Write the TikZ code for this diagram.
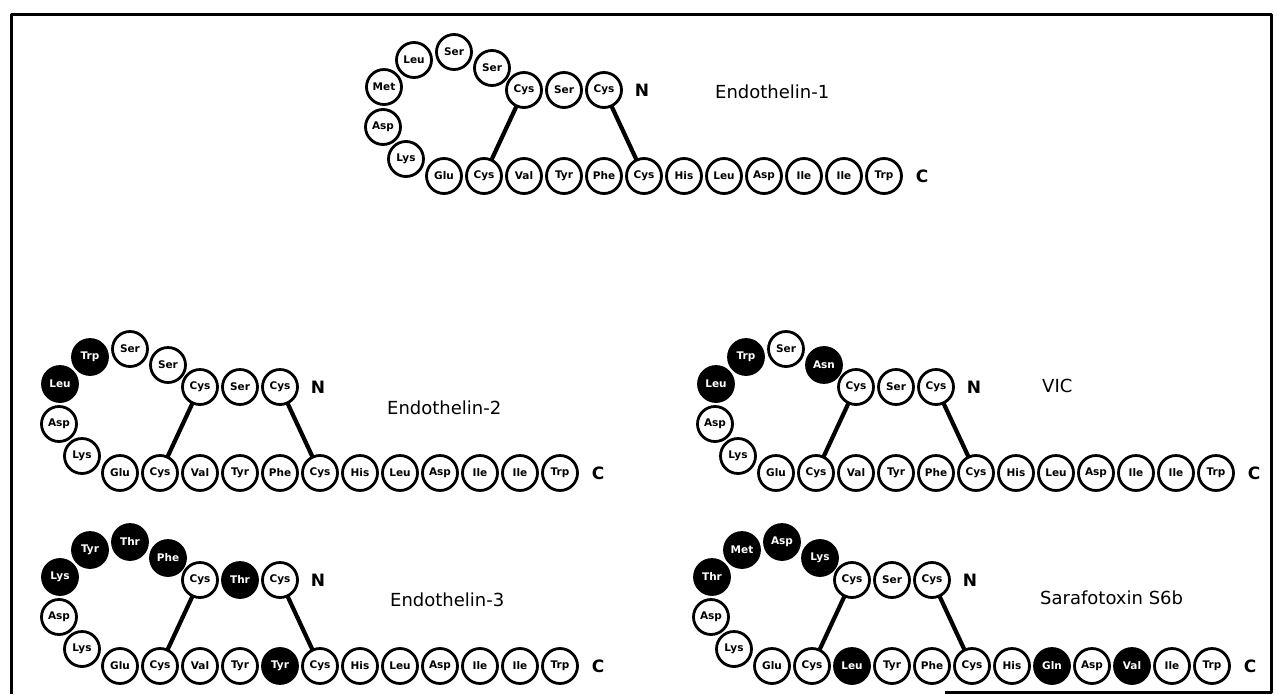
\documentclass[tikz,border=0pt]{standalone}
\usepackage{fontspec}
\newfontfamily\labfont{DejaVu Sans}

\tikzset{
  wres/.style={circle, draw=black, line width=2.8pt, fill=white, minimum size=35pt,
    inner sep=0pt, font=\labfont\bfseries\fontsize{10.5}{10.5}\selectfont, text=black},
  bres/.style={wres, fill=black, text=white},
  bond/.style={line width=4.2pt, line cap=round},
  term/.style={font=\labfont\bfseries\fontsize{17}{17}\selectfont, inner sep=0pt},
  title/.style={font=\labfont\fontsize{18}{18}\selectfont, anchor=west, inner sep=0pt},
  frame/.style={line width=3pt, line join=round}
}

% #1 name prefix, #2 position of Cys3, #3 residues as index/label/style
% residues 1-9: top row and loop; 10-21: bottom row
\newcommand\peptide[3]{%
  \begin{scope}[shift={#2}]
    \foreach \i/\aa/\st in {#3}{%
      \ifnum\i<10
        \pgfmathsetmacro\px{{80,40,0,-32,-70,-110,-140,-141,-118}[\i-1]}%
        \pgfmathsetmacro\py{{0,0,0,-22,-38,-30,-3,37,69}[\i-1]}%
      \else
        \pgfmathsetmacro\px{-80+40*(\i-10)}%
        \def\py{86}%
      \fi
      \node[\st] (#1-\i) at (\px,\py) {\aa};
    }
    \node[term] (#1-N) at (118,0) {N};
    \node[term] (#1-C) at (398,86) {C};
  \end{scope}
  \draw[bond] (#1-3) -- (#1-11);
  \draw[bond] (#1-1) -- (#1-15);
}

\begin{document}
\begin{tikzpicture}[x=1pt, y=-1pt]
  \path[use as bounding box, fill=white] (0,0) rectangle (1278,694);

  % outer frame
  \draw[frame] (945,692) -- (1271,692) -- (1271,14) -- (11,14) -- (11,694);

  % Endothelin-1
  \peptide{eI}{(524,90)}{1/Cys/wres, 2/Ser/wres, 3/Cys/wres, 4/Ser/wres, 5/Ser/wres,
    6/Leu/wres, 7/Met/wres, 8/Asp/wres, 9/Lys/wres, 10/Glu/wres, 11/Cys/wres,
    12/Val/wres, 13/Tyr/wres, 14/Phe/wres, 15/Cys/wres, 16/His/wres, 17/Leu/wres,
    18/Asp/wres, 19/Ile/wres, 20/Ile/wres, 21/Trp/wres}
  \node[title] (tI) at (715,92) {Endothelin-1};

  % Endothelin-2
  \peptide{eII}{(200,387)}{1/Cys/wres, 2/Ser/wres, 3/Cys/wres, 4/Ser/wres, 5/Ser/wres,
    6/Trp/bres, 7/Leu/bres, 8/Asp/wres, 9/Lys/wres, 10/Glu/wres, 11/Cys/wres,
    12/Val/wres, 13/Tyr/wres, 14/Phe/wres, 15/Cys/wres, 16/His/wres, 17/Leu/wres,
    18/Asp/wres, 19/Ile/wres, 20/Ile/wres, 21/Trp/wres}
  \node[title] (tII) at (387,408) {Endothelin-2};

  % Endothelin-3
  \peptide{eIII}{(200,580)}{1/Cys/wres, 2/Thr/bres, 3/Cys/wres, 4/Phe/bres, 5/Thr/bres,
    6/Tyr/bres, 7/Lys/bres, 8/Asp/wres, 9/Lys/wres, 10/Glu/wres, 11/Cys/wres,
    12/Val/wres, 13/Tyr/wres, 14/Tyr/bres, 15/Cys/wres, 16/His/wres, 17/Leu/wres,
    18/Asp/wres, 19/Ile/wres, 20/Ile/wres, 21/Trp/wres}
  \node[title] (tIII) at (390,600) {Endothelin-3};

  % VIC
  \peptide{vic}{(856,387)}{1/Cys/wres, 2/Ser/wres, 3/Cys/wres, 4/Asn/bres, 5/Ser/wres,
    6/Trp/bres, 7/Leu/bres, 8/Asp/wres, 9/Lys/wres, 10/Glu/wres, 11/Cys/wres,
    12/Val/wres, 13/Tyr/wres, 14/Phe/wres, 15/Cys/wres, 16/His/wres, 17/Leu/wres,
    18/Asp/wres, 19/Ile/wres, 20/Ile/wres, 21/Trp/wres}
  \node[title] (tV) at (1042,386) {VIC};

  % Sarafotoxin S6b
  \peptide{srtx}{(852,580)}{1/Cys/wres, 2/Ser/wres, 3/Cys/wres, 4/Lys/bres, 5/Asp/bres,
    6/Met/bres, 7/Thr/bres, 8/Asp/wres, 9/Lys/wres, 10/Glu/wres, 11/Cys/wres,
    12/Leu/bres, 13/Tyr/wres, 14/Phe/wres, 15/Cys/wres, 16/His/wres, 17/Gln/bres,
    18/Asp/wres, 19/Val/bres, 20/Ile/wres, 21/Trp/wres}
  \node[title] (tS) at (1040,598) {Sarafotoxin S6b};
\end{tikzpicture}
\end{document}
